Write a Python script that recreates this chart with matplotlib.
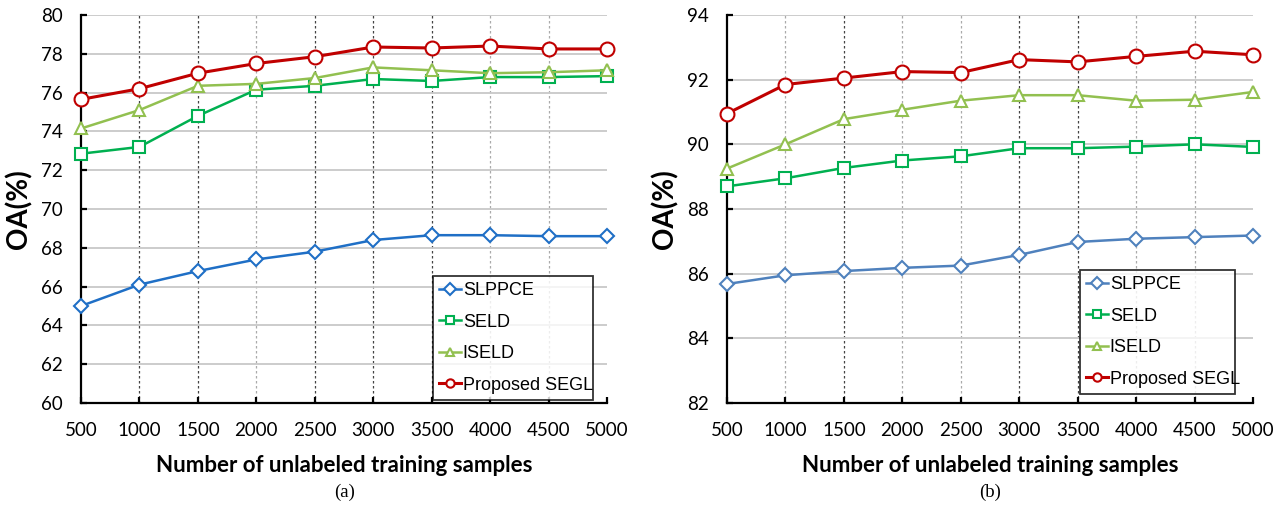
import matplotlib
matplotlib.use("Agg")
import matplotlib.pyplot as plt
import numpy as np

samples = [500, 1000, 1500, 2000, 2500, 3000, 3500, 4000, 4500, 5000]
series_names = ["SLPPCE", "SELD", "ISELD", "Proposed SEGL"]

a_slppce = [65.0, 66.1, 66.8, 67.4, 67.8, 68.4, 68.65, 68.65, 68.6, 68.6]
a_seld = [72.85, 73.2, 74.8, 76.15, 76.35, 76.7, 76.6, 76.8, 76.8, 76.85]
a_iseld = [74.15, 75.1, 76.35, 76.45, 76.75, 77.3, 77.15, 77.0, 77.05, 77.15]
a_segl = [75.65, 76.2, 77.0, 77.5, 77.85, 78.35, 78.3, 78.4, 78.25, 78.25]

b_slppce = [85.68, 85.95, 86.08, 86.18, 86.25, 86.58, 86.98, 87.08, 87.13, 87.18]
b_seld = [88.7, 88.95, 89.27, 89.5, 89.63, 89.88, 89.88, 89.93, 90.0, 89.92]
b_iseld = [89.25, 90.0, 90.78, 91.07, 91.35, 91.52, 91.52, 91.35, 91.38, 91.62]
b_segl = [90.95, 91.85, 92.05, 92.25, 92.22, 92.62, 92.55, 92.72, 92.88, 92.77]

a_yticks = [60, 62, 64, 66, 68, 70, 72, 74, 76, 78, 80]
b_yticks = [82, 84, 86, 88, 90, 92, 94]

W, H = 1286, 508
fig = plt.figure(figsize=(W / 100, H / 100), dpi=100)

tick_font = "Lato"
label_font = "Lato"
legend_font = "Liberation Sans"


def make_panel(rect, data, colors, yticks, dark_v, legend_rect, caption, cap_x):
    ax = fig.add_axes(rect)
    ax.set_xlim(samples[0], samples[-1])
    ax.set_ylim(yticks[0], yticks[-1])
    ax.set_yticks(yticks)
    ax.set_xticks(samples)
    ax.grid(axis="y", color="#c8c8c8", linewidth=1.3, zorder=0)
    for xv in samples[1:-1]:
        c = "#444444" if xv in dark_v else "#aaaaaa"
        ax.axvline(xv, color=c, linestyle=(0, (2, 2)), linewidth=0.9, zorder=1)
    markers = ["D", "s", "^", "o"]
    msizes = [7.5, 8, 8, 10]
    lws = [1.8, 1.8, 1.8, 2.2]
    handles = []
    for vals, col, m, ms, lw, name in zip(data, colors, markers, msizes, lws, series_names):
        (h,) = ax.plot(samples, vals, color=col, marker=m, markersize=ms,
                       markerfacecolor="white", markeredgecolor=col,
                       markeredgewidth=1.5, linewidth=lw, label=name, zorder=3,
                       clip_on=False)
        handles.append(h)
    for s in ["top", "right"]:
        ax.spines[s].set_visible(False)
    for s in ["left", "bottom"]:
        ax.spines[s].set_linewidth(1.6)
        ax.spines[s].set_color("black")
    ax.tick_params(axis="both", direction="in", length=4, width=1.6,
                   labelsize=13.5, colors="black")
    ax.tick_params(axis="y", pad=13)
    ax.tick_params(axis="x", pad=14)
    for lab in ax.get_xticklabels() + ax.get_yticklabels():
        lab.set_fontfamily(tick_font)
    ax.set_ylabel("OA(%)", fontsize=20, fontweight="bold", family=label_font,
                  labelpad=6)
    ax.set_xlabel("Number of unlabeled training samples", fontsize=16,
                  fontweight="bold", family=label_font, labelpad=11)
    leg = ax.legend(handles=handles, loc="lower left",
                    bbox_to_anchor=legend_rect, bbox_transform=fig.transFigure,
                    mode="expand", frameon=True, fancybox=False,
                    edgecolor="black", handlelength=1.2, handletextpad=0.1,
                    borderaxespad=0, borderpad=0.35, labelspacing=0.8,
                    prop={"family": legend_font, "size": 13})
    leg.get_frame().set_linewidth(1.3)
    for lh in leg.legend_handles:
        lh.set_markersize(6)
    leg.set_zorder(5)
    fig.text(cap_x / W, 1 - 492 / H, caption, ha="center", va="center",
             family="Liberation Serif", fontsize=13.5)
    return ax


ax_y0 = 1 - 403 / H
ax_h = 388 / H
ax_w = 526 / W

colors_a = ["#1f6fc6", "#00b050", "#92c050", "#c00000"]
colors_b = ["#4f81bd", "#00b050", "#92c050", "#c00000"]

make_panel([81 / W, ax_y0, ax_w, ax_h],
           [a_slppce, a_seld, a_iseld, a_segl], colors_a, a_yticks,
           {1000, 1500, 2500, 3000, 3500},
           (433 / W, 1 - 400 / H, 160 / W, 134 / H), "(a)", 345)
make_panel([727 / W, ax_y0, ax_w, ax_h],
           [b_slppce, b_seld, b_iseld, b_segl], colors_b, b_yticks,
           {1500, 3000, 3500},
           (1080 / W, 1 - 394 / H, 155 / W, 130 / H), "(b)", 990)

fig.savefig("out.png", dpi=100)
